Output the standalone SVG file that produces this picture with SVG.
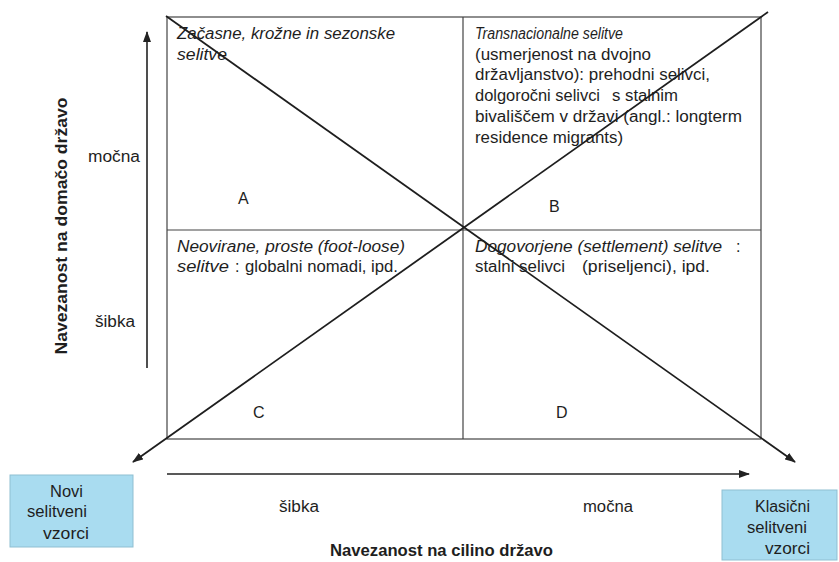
<svg xmlns="http://www.w3.org/2000/svg" width="839" height="562" viewBox="0 0 839 562">
<defs>
<marker id="arr" markerWidth="11" markerHeight="8" refX="10" refY="4" orient="auto" markerUnits="userSpaceOnUse">
<path d="M0,0 L11,4 L0,8 z" fill="#222"/>
</marker>
<style>
.t{font-family:"Liberation Sans",Arial,sans-serif;font-size:16px;fill:#1e1e1e}
.i{font-style:italic}
.b{font-weight:bold}
.grid{fill:none;stroke:#444;stroke-width:1.2}
.diag{stroke:#1e1e1e;stroke-width:1.8;fill:none}
.axis{stroke:#222;stroke-width:1.6;fill:none}
.box{fill:#a9dcf0;stroke:#8fbfd2;stroke-width:1}
</style>
</defs>
<rect width="839" height="562" fill="#fff"/>

<g id="grid">
<rect class="grid" x="167" y="17" width="594" height="422"/>
<line class="grid" x1="463" y1="17" x2="463" y2="439"/>
<line class="grid" x1="167" y1="230" x2="761" y2="230"/>
</g>

<g id="quadrant-A">
<text class="t i" x="177" y="39" textLength="218" lengthAdjust="spacingAndGlyphs">Začasne, krožne in sezonske</text>
<text class="t i" x="177" y="60" textLength="50" lengthAdjust="spacingAndGlyphs">selitve</text>
<text class="t" x="238" y="204">A</text>
</g>

<g id="quadrant-B">
<text class="t i" x="475" y="39" textLength="148" lengthAdjust="spacingAndGlyphs">Transnacionalne selitve</text>
<text class="t" x="475" y="59.5" textLength="176" lengthAdjust="spacingAndGlyphs">(usmerjenost na dvojno</text>
<text class="t" x="475" y="80" textLength="235" lengthAdjust="spacingAndGlyphs">državljanstvo): prehodni selivci,</text>
<text class="t" x="475" y="101" textLength="125" lengthAdjust="spacingAndGlyphs">dolgoročni selivci</text>
<text class="t" x="612" y="101" textLength="66" lengthAdjust="spacingAndGlyphs">s stalnim</text>
<text class="t" x="475" y="122" textLength="267" lengthAdjust="spacingAndGlyphs">bivališčem v državi (angl.: longterm</text>
<text class="t" x="475" y="142.5" textLength="148" lengthAdjust="spacingAndGlyphs">residence migrants)</text>
<text class="t" x="549" y="212">B</text>
</g>

<g id="quadrant-C">
<text class="t i" x="177" y="252" textLength="228" lengthAdjust="spacingAndGlyphs">Neovirane, proste (foot-loose)</text>
<text class="t i" x="177" y="272" textLength="52" lengthAdjust="spacingAndGlyphs">selitve</text>
<text class="t" x="235" y="272">:</text>
<text class="t" x="245" y="272" textLength="153" lengthAdjust="spacingAndGlyphs">globalni nomadi, ipd.</text>
<text class="t" x="253" y="418">C</text>
</g>

<g id="quadrant-D">
<text class="t i" x="475" y="252" textLength="247" lengthAdjust="spacingAndGlyphs">Dogovorjene (settlement) selitve</text>
<text class="t" x="736" y="252">:</text>
<text class="t" x="475" y="272" textLength="90" lengthAdjust="spacingAndGlyphs">stalni selivci</text>
<text class="t" x="582" y="272" textLength="128" lengthAdjust="spacingAndGlyphs">(priseljenci), ipd.</text>
<text class="t" x="556" y="418">D</text>
</g>

<g id="connectors">
<line class="diag" x1="166" y1="16" x2="795" y2="462" marker-end="url(#arr)"/>
<line class="diag" x1="768" y1="12" x2="133" y2="462" marker-end="url(#arr)"/>
<line class="axis" x1="147" y1="368" x2="147" y2="32" marker-end="url(#arr)"/>
<line class="axis" x1="167" y1="474" x2="749" y2="474" marker-end="url(#arr)"/>
</g>

<g id="y-axis-labels">
<text class="t b" transform="translate(67,226) rotate(-90)" text-anchor="middle" textLength="257" lengthAdjust="spacingAndGlyphs">Navezanost na domačo državo</text>
<text class="t" x="88" y="162" textLength="52" lengthAdjust="spacingAndGlyphs">močna</text>
<text class="t" x="95" y="327" textLength="40" lengthAdjust="spacingAndGlyphs">šibka</text>
</g>

<g id="x-axis-labels">
<text class="t" x="279" y="512" textLength="40" lengthAdjust="spacingAndGlyphs">šibka</text>
<text class="t" x="583" y="512" textLength="50" lengthAdjust="spacingAndGlyphs">močna</text>
<text class="t b" x="330" y="556" textLength="223" lengthAdjust="spacingAndGlyphs">Navezanost na cilino državo</text>
</g>

<g id="novi-box">
<rect class="box" x="10" y="475" width="123" height="72"/>
<text class="t" x="50" y="497" textLength="33" lengthAdjust="spacingAndGlyphs">Novi</text>
<text class="t" x="27" y="517" textLength="60" lengthAdjust="spacingAndGlyphs">selitveni</text>
<text class="t" x="43" y="539" textLength="46" lengthAdjust="spacingAndGlyphs">vzorci</text>
</g>

<g id="klasicni-box">
<rect class="box" x="722" y="490" width="115" height="70"/>
<text class="t" x="755" y="512" textLength="55" lengthAdjust="spacingAndGlyphs">Klasični</text>
<text class="t" x="747" y="533" textLength="60" lengthAdjust="spacingAndGlyphs">selitveni</text>
<text class="t" x="765" y="554" textLength="45" lengthAdjust="spacingAndGlyphs">vzorci</text>
</g>
</svg>
